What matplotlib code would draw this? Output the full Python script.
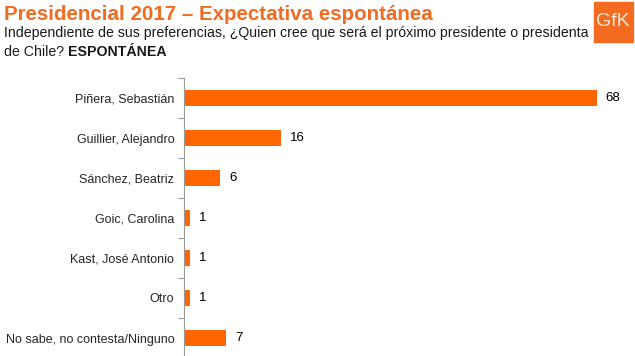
import matplotlib
matplotlib.use("Agg")
import matplotlib.pyplot as plt
from matplotlib.patches import Rectangle
from matplotlib.transforms import offset_copy

plt.rcParams['font.family'] = ['Liberation Sans', 'DejaVu Sans']

# data
candidatos = ["Piñera, Sebastián", "Guillier, Alejandro", "Sánchez, Beatriz",
              "Goic, Carolina", "Kast, José Antonio", "Otro",
              "No sabe, no contesta/Ninguno"]
porcentajes = [68, 16, 6, 1, 1, 1, 7]

ORANGE = "#FF6600"
TITLE_ORANGE = "#F26B21"

W, H = 635, 356
fig = plt.figure(figsize=(W / 100, H / 100), dpi=100)

# axes placed in pixel terms: x 184..620, y 78..358
ax = fig.add_axes([184 / W, (H - 358) / H, (620 - 184) / W, 280 / H])
pos = list(range(len(candidatos)))
ax.barh(pos, porcentajes, height=0.4, color=ORANGE)
ax.set_ylim(len(candidatos) - 0.5, -0.5)
ax.set_xlim(0, 436 / 6.07)

for p, v in zip(pos, porcentajes):
    ax.text(v + 1.4, p, str(v), va='center', ha='left', fontsize=9.5, color='black')

ax.set_yticks(pos)
ax.set_yticklabels(candidatos, fontsize=9, color='#262626')
ax.tick_params(axis='y', which='major', length=0, pad=7)
ax.set_yticks([p - 0.5 for p in pos], minor=True)
ax.tick_params(axis='y', which='minor', length=4, color='#999999', width=0.8)
ax.set_xticks([])
for s in ['top', 'right', 'bottom']:
    ax.spines[s].set_visible(False)
ax.spines['left'].set_color('#999999')
ax.spines['left'].set_linewidth(0.8)

# header
fig.text(4 / W, 1 - 14 / H, "Presidencial 2017 – Expectativa espontánea",
         fontsize=14.8, fontweight='bold', color=TITLE_ORANGE, va='center', ha='left')
fig.text(4 / W, 1 - 33 / H,
         "Independiente de sus preferencias, ¿Quien cree que será el próximo presidente o presidenta",
         fontsize=10.2, color='#1a1a1a', va='center', ha='left')
t2 = fig.text(4 / W, 1 - 52 / H, "de Chile?", fontsize=10.2, color='#1a1a1a',
              va='center', ha='left')
fig.canvas.draw()
bb = t2.get_window_extent()
fig.text((bb.x1 + 4) / W, 1 - 52 / H, "ESPONTÁNEA", fontsize=10.2, fontweight='bold',
         color='#1a1a1a', va='center', ha='left')

# logo
fig.patches.append(Rectangle((594 / W, 1 - 42 / H), 39 / W, 40 / H,
                             transform=fig.transFigure, color="#F26B21", zorder=5))
fig.text(613 / W, 1 - 22 / H, "GfK", fontsize=14, color='#FFE8D8', ha='center',
         va='center', zorder=6)

fig.savefig("out.png", dpi=100)
